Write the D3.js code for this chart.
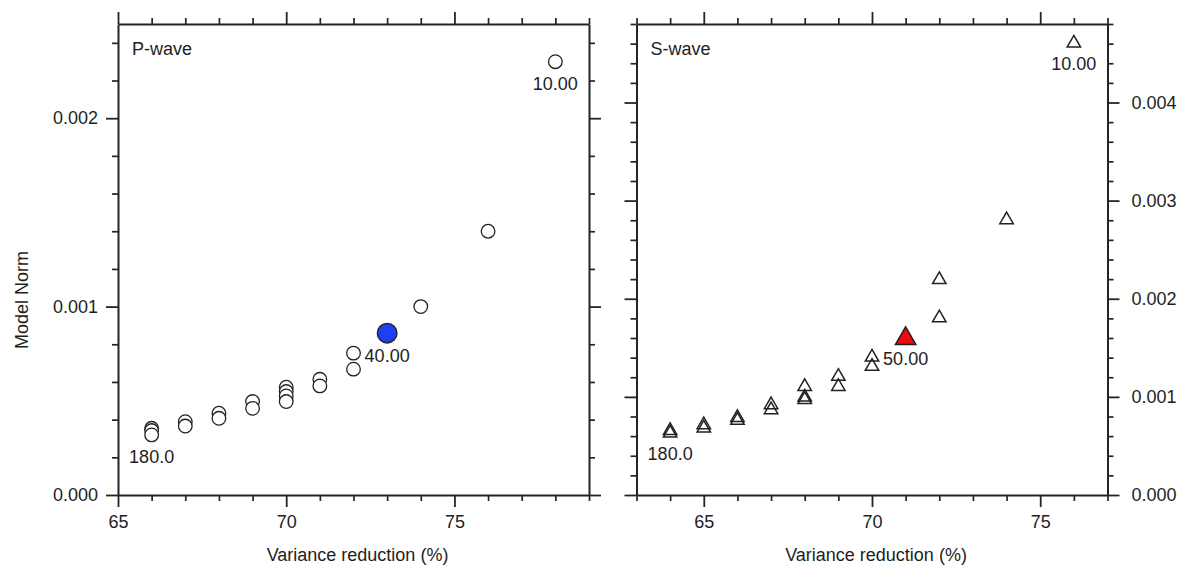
<!DOCTYPE html>
<html>
<head>
<meta charset="utf-8">
<script src="https://cdn.jsdelivr.net/npm/d3@7"></script>
<style>
  html, body { margin: 0; padding: 0; background: #fff; }
  svg { display: block; font-family: "Liberation Sans", Arial, sans-serif; }
  .axis path, .axis line { stroke: #242424; }
  .axis text { fill: #1e1e1e; font-size: 18px; font-family: "Liberation Sans", Arial, sans-serif; }
</style>
</head>
<body>
<svg id="chart" width="1184" height="566"></svg>
<script>
// ---------------- data ----------------
// P-wave panel (circles): variance reduction (%) vs model norm
const pwaveVR   = [78, 76, 74, 72, 72, 71, 71, 70, 70, 70, 70, 69, 69, 68, 68, 67, 67, 66, 66, 66];
const pwaveNorm = [0.00230, 0.00140, 0.00100, 0.000753, 0.000668, 0.000614, 0.000579,
                   0.000572, 0.000549, 0.000526, 0.000496, 0.000496, 0.000460,
                   0.000434, 0.000407, 0.000389, 0.000366, 0.000354, 0.000342, 0.000319];
const pwaveBestVR   = [73];
const pwaveBestNorm = [0.000859];
const pwaveLabels   = ["10.00", "40.00", "180.0"];
const pwaveLabelVR  = [78, 73, 66];
const pwaveLabelNorm = [0.00230, 0.000859, 0.000319];

// S-wave panel (triangles)
const swaveVR   = [76, 74, 72, 72, 70, 70, 69, 69, 68, 68, 68, 67, 67, 66, 66, 65, 65, 64, 64];
const swaveNorm = [0.00462, 0.00282, 0.00221, 0.00182, 0.00142, 0.001325, 0.001223, 0.001121,
                   0.001121, 0.001012, 0.000986, 0.000935, 0.000884, 0.000805, 0.000775,
                   0.000731, 0.000696, 0.000672, 0.000645];
const swaveBestVR   = [71];
const swaveBestNorm = [0.001614];
const swaveLabels   = ["10.00", "50.00", "180.0"];
const swaveLabelVR  = [76, 71, 64];
const swaveLabelNorm = [0.00462, 0.001614, 0.000645];

// axes
const pXDomain = [65, 79];
const pYDomain = [0, 0.0025];
const sXDomain = [63, 77];
const sYDomain = [0, 0.0048];
const xMajorTicksP = [65, 70, 75];
const xMajorTicksS = [65, 70, 75];
const yMajorTicksP = [0, 0.001, 0.002];
const yMajorTicksS = [0, 0.001, 0.002, 0.003, 0.004];
const xTitle = "Variance reduction (%)";
const yTitle = "Model Norm";

// ---------------- drawing ----------------
const svg = d3.select("#chart");
const plotTop = 24, plotBottom = 495;
const MAJ = 12, MIN = 6;
const FS = "18px";

function intRange(a, b) { return d3.range(a, b + 1); }
function minorY(domain) {
  const n = Math.round(domain[1] / 0.0002);
  return d3.range(0, n + 1).map(i => i * 0.0002).filter(v => v <= domain[1] + 1e-12);
}

function panel(opts) {
  const x = d3.scaleLinear().domain(opts.xDomain).range([opts.left, opts.right]);
  const y = d3.scaleLinear().domain(opts.yDomain).range([plotBottom, plotTop]);
  const g = svg.append("g");
  const xMinor = intRange(opts.xDomain[0], opts.xDomain[1]).filter(v => !opts.xMajor.includes(v));
  const yMinor = minorY(opts.yDomain).filter(v => !opts.yMajor.some(m => Math.abs(m - v) < 1e-9));

  // minor ticks (no domain)
  const minorAxes = [
    [d3.axisBottom(x), `translate(0,${plotBottom})`, xMinor],
    [d3.axisTop(x), `translate(0,${plotTop})`, xMinor],
    [d3.axisLeft(y), `translate(${opts.left},0)`, yMinor],
    [d3.axisRight(y), `translate(${opts.right},0)`, yMinor]
  ];
  minorAxes.forEach(([ax, tr, vals]) => {
    const a = g.append("g").attr("class", "axis").attr("transform", tr)
      .call(ax.tickValues(vals).tickSize(MIN).tickSizeOuter(0).tickFormat(""));
    a.select(".domain").remove();
    a.selectAll("line").attr("stroke-width", 1.7);
  });

  // major ticks + frame
  const fmtY = d3.format(".3f");
  const axB = g.append("g").attr("class", "axis").attr("transform", `translate(0,${plotBottom})`)
    .call(d3.axisBottom(x).tickValues(opts.xMajor).tickSize(MAJ).tickSizeOuter(0).tickPadding(8).tickFormat(d3.format("d")));
  const axT = g.append("g").attr("class", "axis").attr("transform", `translate(0,${plotTop})`)
    .call(d3.axisTop(x).tickValues(opts.xMajor).tickSize(MAJ).tickSizeOuter(0).tickFormat(""));
  const axL = g.append("g").attr("class", "axis").attr("transform", `translate(${opts.left},0)`)
    .call(d3.axisLeft(y).tickValues(opts.yMajor).tickSize(MAJ).tickSizeOuter(0).tickPadding(8)
      .tickFormat(opts.labelsLeft ? fmtY : ""));
  const axR = g.append("g").attr("class", "axis").attr("transform", `translate(${opts.right},0)`)
    .call(d3.axisRight(y).tickValues(opts.yMajor).tickSize(MAJ).tickSizeOuter(0).tickPadding(12)
      .tickFormat(opts.labelsLeft ? "" : fmtY));
  [axB, axT, axL, axR].forEach(a => {
    a.select(".domain").attr("stroke-width", 2);
    a.selectAll("line").attr("stroke-width", 1.8);
  });

  // panel title
  g.append("text").attr("x", opts.left + 14).attr("y", 55)
    .attr("font-size", FS).attr("fill", "#1e1e1e").text(opts.title);

  // x title
  g.append("text").attr("x", (opts.left + opts.right) / 2 + 4).attr("y", 561)
    .attr("text-anchor", "middle").attr("font-size", FS).attr("fill", "#1e1e1e").text(xTitle);

  // points
  const pts = opts.vr.map((v, i) => ({ vr: v, norm: opts.norm[i] }));
  const best = opts.bestVR.map((v, i) => ({ vr: v, norm: opts.bestNorm[i] }));
  if (opts.shape === "circle") {
    g.append("g").selectAll("circle").data(pts).join("circle")
      .attr("cx", d => x(d.vr)).attr("cy", d => y(d.norm)).attr("r", 6.8)
      .attr("fill", "#fff").attr("stroke", "#222").attr("stroke-width", 1.3);
    g.append("g").selectAll("circle").data(best).join("circle")
      .attr("cx", d => x(d.vr)).attr("cy", d => y(d.norm)).attr("r", 9.8)
      .attr("fill", opts.bestColor).attr("stroke", "#222").attr("stroke-width", 1.4);
  } else {
    const tri = d3.symbol().type(d3.symbolTriangle);
    g.append("g").selectAll("path").data(pts).join("path")
      .attr("transform", d => `translate(${x(d.vr)},${y(d.norm) + 1.5})`)
      .attr("d", tri.size(78)())
      .attr("fill", "none").attr("stroke", "#222").attr("stroke-width", 1.5);
    g.append("g").selectAll("path").data(best).join("path")
      .attr("transform", d => `translate(${x(d.vr)},${y(d.norm) + 2})`)
      .attr("d", d3.symbol().type(d3.symbolTriangle).size(180)())
      .attr("fill", opts.bestColor).attr("stroke", "#222").attr("stroke-width", 1.5);
  }

  // point labels
  g.append("g").selectAll("text").data(opts.labels).join("text")
    .attr("x", (d, i) => x(opts.labelVR[i]))
    .attr("y", (d, i) => y(opts.labelNorm[i]) + 28.5)
    .attr("text-anchor", "middle").attr("font-size", FS).attr("fill", "#1e1e1e")
    .text(d => d);
}

panel({
  left: 118, right: 589, xDomain: pXDomain, yDomain: pYDomain,
  xMajor: xMajorTicksP, yMajor: yMajorTicksP, labelsLeft: true,
  title: "P-wave", shape: "circle", bestColor: "#1e3ff2",
  vr: pwaveVR, norm: pwaveNorm, bestVR: pwaveBestVR, bestNorm: pwaveBestNorm,
  labels: pwaveLabels, labelVR: pwaveLabelVR, labelNorm: pwaveLabelNorm
});
panel({
  left: 636.5, right: 1107.5, xDomain: sXDomain, yDomain: sYDomain,
  xMajor: xMajorTicksS, yMajor: yMajorTicksS, labelsLeft: false,
  title: "S-wave", shape: "triangle", bestColor: "#ee0a0a",
  vr: swaveVR, norm: swaveNorm, bestVR: swaveBestVR, bestNorm: swaveBestNorm,
  labels: swaveLabels, labelVR: swaveLabelVR, labelNorm: swaveLabelNorm
});

// y title
svg.append("text").attr("transform", "translate(28,300) rotate(-90)")
  .attr("text-anchor", "middle").attr("font-size", FS).attr("fill", "#1e1e1e").text(yTitle);
</script>
</body>
</html>
